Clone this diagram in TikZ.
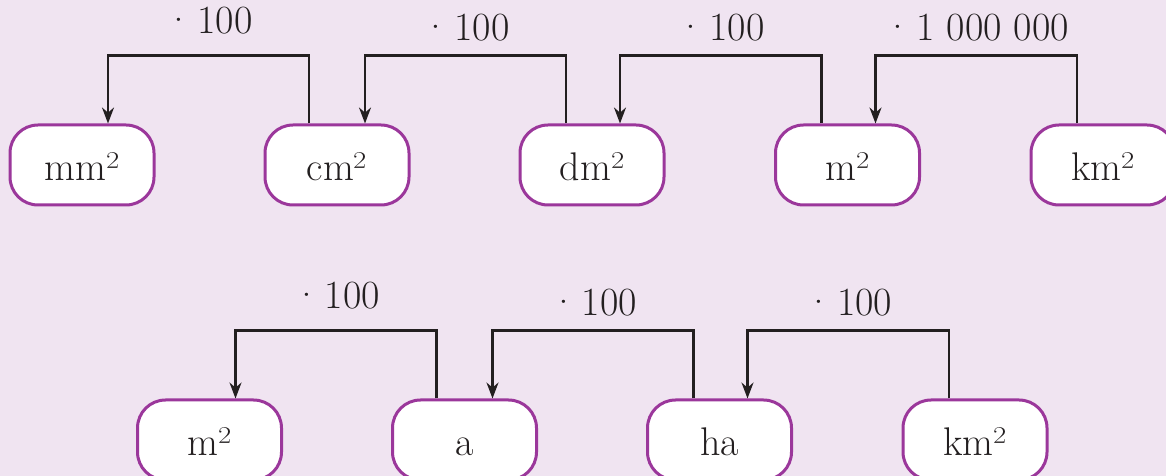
\documentclass[tikz,border=0pt]{standalone}
\usepackage{fontspec}
\usepackage{xcolor}
\usetikzlibrary{positioning,arrows.meta}
\definecolor{bgpink}{RGB}{240,228,241}
\definecolor{boxpurple}{RGB}{155,55,155}
\definecolor{linedark}{RGB}{35,31,32}

\begin{document}
\begin{tikzpicture}
		[unit/.style = {draw=boxpurple, line width=1.5pt, fill=white,
			rounded corners=14pt, minimum width=72pt, minimum height=40pt,
			inner sep=0pt, text height=16pt, text depth=0pt, text=linedark,
			font=\fontsize{20}{24}\selectfont},
		 times/.style = {inner sep=0pt, text=linedark,
			font=\fontsize{20}{24}\selectfont},
		 conv/.style = {draw=linedark, line width=1.1pt,
			-{Stealth[length=8pt,width=6pt]}}]
		\fill[bgpink] (0,0) rectangle (583pt,238pt);
		\useasboundingbox (0,0) rectangle (583pt,238pt);
		% first row
		\path	(41pt,155.5pt)    node[unit] (mm) {mm²}
				(168.5pt,155.5pt) node[unit] (cm) {cm²}
				(296pt,155.5pt)   node[unit] (dm) {dm²}
				(423.75pt,155.5pt) node[unit] (m) {m²}
				(551.5pt,155.5pt) node[unit] (km) {km²} ;
		% second row
		\path	(104.75pt,18pt) node[unit] (mb) {m²}
				(232.25pt,18pt) node[unit] (a) {a}
				(359.75pt,18pt) node[unit] (ha) {ha}
				(487.5pt,18pt)  node[unit] (kmb) {km²} ;
		% conversions
		\draw[conv] ([xshift=-14pt]cm.north) -- ++(0,34pt)
			-| node[times, pos=.25, above=10pt] {·\hspace{.1em}100} ([xshift=13pt]mm.north);
		\draw[conv] ([xshift=-13pt]dm.north) -- ++(0,34pt)
			-| node[times, pos=.25, above=6.5pt] {·\hspace{.1em}100} ([xshift=14pt]cm.north);
		\draw[conv] ([xshift=-13pt]m.north) -- ++(0,34pt)
			-| node[times, pos=.25, above=6.5pt] {·\hspace{.1em}100} ([xshift=14pt]dm.north);
		\draw[conv] ([xshift=-13pt]km.north) -- ++(0,34pt)
			-| node[times, pos=.25, above=6.5pt] {·\hspace{.1em}1 000 000} ([xshift=14pt]m.north);
		\draw[conv] ([xshift=-14pt]a.north) -- ++(0,34pt)
			-| node[times, pos=.25, above=10pt] {·\hspace{.1em}100} ([xshift=13pt]mb.north);
		\draw[conv] ([xshift=-13pt]ha.north) -- ++(0,34pt)
			-| node[times, pos=.25, above=6.5pt] {·\hspace{.1em}100} ([xshift=14pt]a.north);
		\draw[conv] ([xshift=-13pt]kmb.north) -- ++(0,34pt)
			-| node[times, pos=.25, above=6.5pt] {·\hspace{.1em}100} ([xshift=14pt]ha.north);
	\end{tikzpicture}
\end{document}
